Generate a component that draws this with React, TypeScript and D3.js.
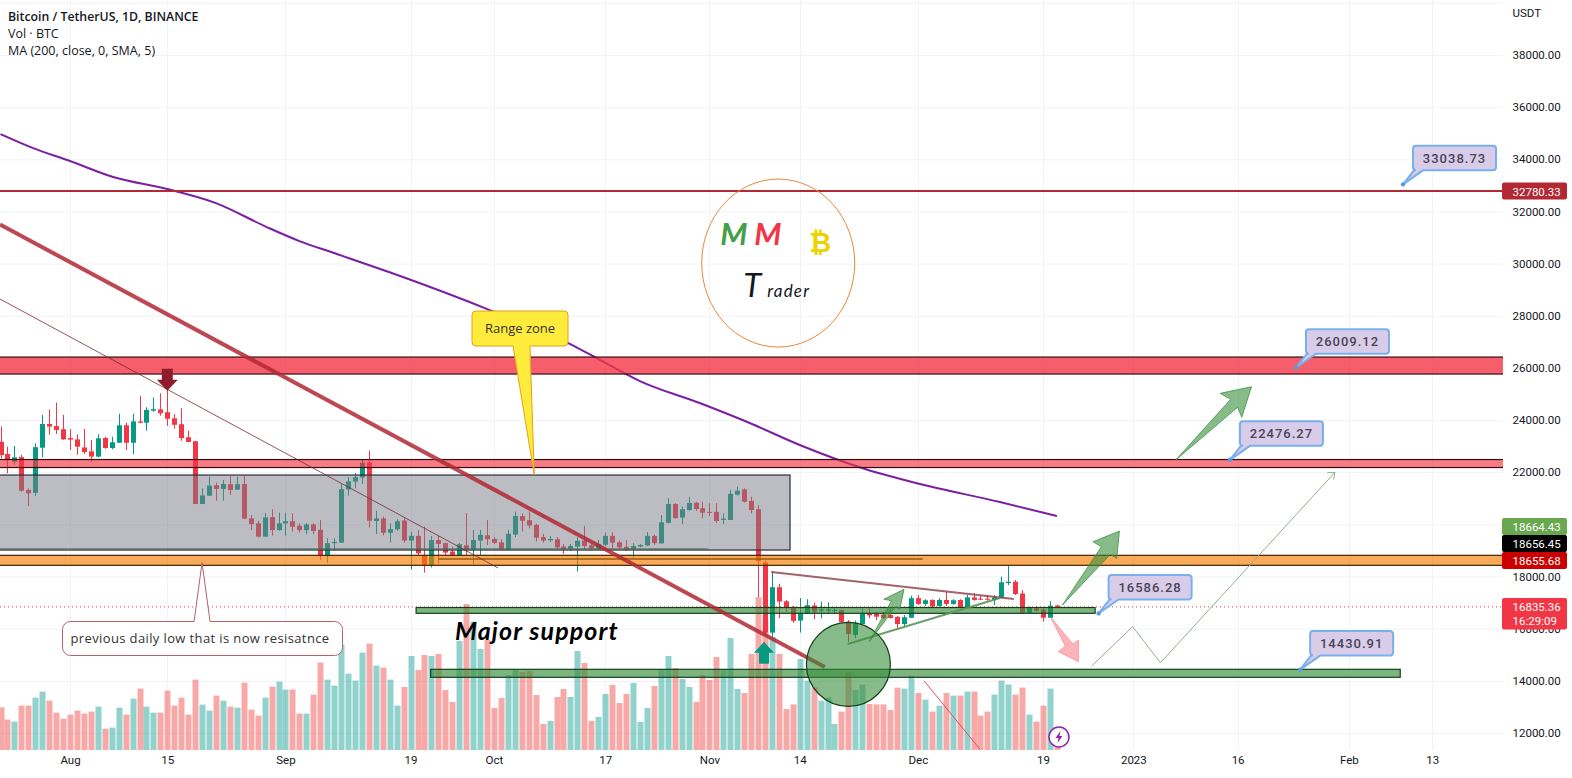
import React, { useEffect, useRef } from "react";
import * as d3 from "d3";

const opens = [23170,22700,22400,22580,21320,21210,22940,23850,23770,23650,23310,23260,22950,22800,22600,23310,22930,23130,23800,23130,23950,23900,24360,24410,24300,24070,23840,23340,23190,20780,21100,21500,21360,21540,21330,21550,20230,20040,19530,20280,19780,20040,20120,19950,19780,20000,19790,18790,19280,19300,21340,21640,21800,22380,20130,20230,19680,19810,20150,19380,19560,18830,18440,19400,19280,18960,18820,19200,19020,19380,19580,19440,19310,19020,19610,20320,20160,19980,19510,19390,19430,19150,19060,19150,19380,19200,19060,19220,19560,19310,19140,19050,19150,19190,19560,19270,20060,20780,20260,20550,20830,20620,20480,20480,20170,20170,21140,21340,20900,20580,18540,15850,17590,17050,16810,16310,16590,16890,16690,16690,16690,16710,16270,15760,16180,16590,16570,16540,16530,16450,16180,16420,17170,16950,17100,16870,17100,16950,17100,16820,17200,17150,17150,17100,17190,17750,17800,17350,16610,16780,16740,16420,16890];
const highs = [23750,22980,23010,22670,21380,23110,24200,24410,24670,24200,23650,23450,23660,23240,23460,23360,23360,24240,23900,24240,24930,24490,24870,25030,25180,24230,24450,23590,23190,21380,21830,21600,21700,21860,21830,21860,20360,20140,20430,20580,20450,20450,20430,20040,20040,20040,20170,19470,19470,21550,21810,21960,22500,22830,20530,20300,20040,20200,20240,19720,19790,19920,19560,19560,19300,19150,19280,20430,19790,19790,20170,19510,19430,19790,20490,20420,20490,20020,19640,19560,19510,19250,19250,19510,19940,19280,19400,19690,19690,19380,19400,19280,19250,19700,19600,20360,21000,20810,20680,21060,20870,20870,20810,20810,20420,21320,21450,21380,21060,20750,18620,18190,17720,17100,16880,17170,17130,17000,17040,17010,16780,16740,16330,16310,16780,16780,16650,16650,16720,16490,16530,17260,17290,17130,17130,17170,17410,17130,17130,17290,17360,17250,17280,17290,18000,18420,17870,17480,16840,16870,16780,17060,16920];
const lows = [22530,21960,22280,21260,20700,21090,22570,23430,23470,23240,22850,22670,22700,22390,22570,22900,22880,23130,22850,22700,23870,23590,24320,24170,23780,23670,23210,23150,20780,20780,21090,20910,20910,21130,21320,20220,19780,19500,19530,19570,19760,19570,19720,19680,19620,19630,18630,18530,18990,19300,21110,21380,21550,19880,19630,19580,19300,19760,19300,18270,18790,18150,18350,18500,18830,18790,18790,18820,18480,18830,19210,19250,19020,19020,19510,19720,19850,19340,19300,19330,19040,18870,18990,18190,19050,19020,19020,19170,19080,19070,18990,18700,19120,19170,19210,19270,20040,20220,20010,20520,20520,20230,20320,20060,20010,20170,21110,20840,20420,17220,15760,15690,16400,16650,16230,15850,16570,16360,16400,16570,16590,16230,15500,15630,16180,16400,16330,16360,16390,15950,16100,16420,16910,16870,16820,16850,16870,16920,16790,16820,17070,17100,17070,16910,17160,17670,17290,16560,16590,16650,16270,16420,16790];
const closes = [22660,22470,22570,21290,21190,22960,23850,23750,23620,23260,23250,22980,22770,22600,23300,22930,23150,23800,23130,23950,23900,24390,24420,24260,24050,23820,23310,23160,20780,21110,21490,21360,21550,21320,21540,20220,20010,19530,20270,19780,20040,20120,19910,19780,20000,19750,18790,19280,19330,21350,21650,21810,22370,20140,20230,19680,19820,20120,19380,19560,18890,18440,19400,19250,18920,18830,19240,19020,19400,19600,19430,19290,19050,19640,20320,20140,19960,19490,19380,19440,19120,19050,19170,19370,19170,19070,19250,19560,19300,19120,19020,19170,19210,19560,19280,20080,20780,20240,20580,20820,20590,20450,20450,20130,20220,21170,21290,20870,20550,18590,15850,17590,17040,16820,16300,16590,16900,16650,16740,16740,16720,16260,15800,16210,16590,16510,16460,16410,16410,16180,16440,17170,16950,17090,16850,17100,16950,17090,16830,17200,17100,17110,17110,17200,17780,17800,17330,16610,16790,16690,16420,16880,16835.36];
// thousands of BTC
const volumes = [213,152,142,222,222,262,292,247,187,157,177,197,182,192,217,107,112,212,177,257,307,217,187,187,297,222,262,177,352,227,197,272,247,217,212,337,202,172,262,317,342,302,302,182,182,277,437,352,322,527,382,347,487,532,422,412,352,222,315,470,400,475,470,480,300,240,545,730,642,505,550,210,260,375,400,390,395,275,130,145,265,305,265,495,435,145,165,280,325,235,280,335,140,210,320,400,470,410,355,315,240,375,350,465,400,560,305,285,480,765,650,565,480,205,228,455,347,313,247,263,130,192,388,300,327,230,228,228,200,312,307,372,285,252,192,222,285,272,272,292,292,172,192,277,347,327,277,312,177,142,222,307,20];

const firstBarOffset = -10; // first bar sits 10 days before 1 Aug
const priceTicks = [38000,36000,34000,32000,30000,28000,26000,24000,22000,20000,18000,16000,14000,12000];
const timeTicks = ["2022-08-01","2022-08-15","2022-09-01","2022-09-19","2022-10-01","2022-10-17","2022-11-01","2022-11-14","2022-12-01","2022-12-19","2023-01-01","2023-01-16","2023-02-01","2023-02-13"];
const timeLabels = ["Aug","15","Sep","19","Oct","17","Nov","14","Dec","19","2023","16","Feb","13"];

const maDays = [-10,-5.3,0,6.2,14,21,28.3,33,38,47.5,60.4,71.7,76.3,82,90.6,97.8,105,114.4,122.3,133.8,142];
const maValues = [34968,34431,33933,33319,32859,32322,31402,30865,30405,29523,28219,26954,26302,25497,24654,23887,23043,22123,21548,20857,20321];

const bigArrow = [[159.1,22468],[167,24795],[165.5,25025],[170,25279],[168.6,24105],[168,24488]];
const upArrow = [[142.8,16908],[148.4,19143],[147.2,19335],[151,19745],[150.6,18699],[149.7,18852]];
const smallArrow = [[115,15501],[118.2,17073],[117.1,17127],[120,17510],[119.4,16743],[118.8,16843]];
const pinkArrow = [[141.1,16436],[143.2,15336],[142.2,15117],[145.1,14734],[145.1,15566],[144.3,15413]];
const scenarioPath = [[147,14569],[152.9,16076],[156.9,14696],[182,21996]];
const scenarioHead = [[180.9,21981],[182,21996],[181.8,21728]];

const callouts = [
  { day: 191.8, price: 33038.73 },
  { day: 176.4, price: 26009.12 },
  { day: 166.9, price: 22476.27 },
  { day: 148, price: 16586.28 },
  { day: 177, price: 14430.91 },
];

const W = 1572;
const H = 778;
const paneRight = 1503;
const volBase = 750;

const dayX = d3.scaleLinear().domain([0, 196]).range([70, 70 + 6.95 * 196]);
const aug1 = Date.UTC(2022, 7, 1);
const x = d3.scaleUtc().domain([new Date(aug1), new Date(aug1 + 196 * 864e5)]).range([70, 70 + 6.95 * 196]);
const y = d3.scaleLinear().domain([12000, 38000]).range([733, 55]);
const vol = d3.scaleLinear().domain([0, 1000]).range([volBase, volBase - 200]);
const pt = ([d, p]: number[]) => [dayX(d), y(p)] as [number, number];

// rounded box with a pointer to (tx, ty), the pointer leaving the top or bottom edge
function balloon(bx: number, by: number, w: number, h: number, r: number, b0: number, b1: number, tx: number, ty: number, side: "top" | "bottom") {
  const p = d3.path();
  p.moveTo(bx + r, by);
  if (side === "top") {
    p.lineTo(b0, by);
    p.lineTo(tx, ty);
    p.lineTo(b1, by);
  }
  p.lineTo(bx + w - r, by);
  p.arcTo(bx + w, by, bx + w, by + r, r);
  p.lineTo(bx + w, by + h - r);
  p.arcTo(bx + w, by + h, bx + w - r, by + h, r);
  if (side === "bottom") {
    p.lineTo(b1, by + h);
    p.lineTo(tx, ty);
    p.lineTo(b0, by + h);
  }
  p.lineTo(bx + r, by + h);
  p.arcTo(bx, by + h, bx, by + h - r, r);
  p.lineTo(bx, by + r);
  p.arcTo(bx, by, bx + r, by, r);
  p.closePath();
  return p.toString();
}

const App: React.FC = () => {
  const svgRef = useRef<SVGSVGElement>(null);

  useEffect(() => {
    if (!svgRef.current) return;
    document.body.style.margin = "0";
    const svg = d3.select(svgRef.current);
    svg.selectAll("*").remove();
    const sans = "Roboto, 'Noto Sans', sans-serif";
    const ui = "'Open Sans', 'Noto Sans', sans-serif";

    svg.append("defs").append("clipPath").attr("id", "pane")
      .append("rect").attr("width", paneRight).attr("height", volBase);

    // grid
    const grid = svg.append("g").attr("stroke", "#f0f3fa");
    grid.selectAll("line.h").data(priceTicks.concat(40000)).join("line")
      .attr("x1", 0).attr("x2", paneRight).attr("y1", (d) => y(d) + 0.5).attr("y2", (d) => y(d) + 0.5);
    grid.selectAll("line.v").data(timeTicks).join("line")
      .attr("x1", (d) => Math.round(x(new Date(d))) + 0.5).attr("x2", (d) => Math.round(x(new Date(d))) + 0.5)
      .attr("y1", 0).attr("y2", volBase);

    const pane = svg.append("g").attr("clip-path", "url(#pane)");
    const bars = opens.map((o, i) => ({
      cx: Math.round(dayX(firstBarOffset + i)),
      o, h: highs[i], l: lows[i], c: closes[i], v: volumes[i],
      up: closes[i] >= o,
    }));

    // volume
    pane.append("g").selectAll("rect").data(bars).join("rect")
      .attr("x", (d) => d.cx - 2.5).attr("width", 6)
      .attr("y", (d) => vol(d.v)).attr("height", (d) => volBase - vol(d.v))
      .attr("fill", (d) => (d.up ? "rgba(38,166,154,0.5)" : "rgba(239,83,80,0.5)"));

    // candles
    const candles = pane.append("g");
    candles.selectAll("line").data(bars).join("line")
      .attr("x1", (d) => d.cx + 0.5).attr("x2", (d) => d.cx + 0.5)
      .attr("y1", (d) => y(d.h)).attr("y2", (d) => y(d.l))
      .attr("stroke", (d) => (d.up ? "#089981" : "#f23645"));
    candles.selectAll("rect").data(bars).join("rect")
      .attr("x", (d) => d.cx - 2).attr("width", 5)
      .attr("y", (d) => y(Math.max(d.o, d.c)))
      .attr("height", (d) => Math.max(1, Math.abs(y(d.o) - y(d.c))))
      .attr("fill", (d) => (d.up ? "#089981" : "#f23645"));

    // moving average
    const maLine = d3.line<number>().x((d) => dayX(d)).y((_, i) => y(maValues[i])).curve(d3.curveMonotoneX);
    pane.append("path").attr("d", maLine(maDays)).attr("fill", "none").attr("stroke", "#7b1fa2").attr("stroke-width", 2);

    // current price line
    pane.append("line").attr("x1", 0).attr("x2", paneRight).attr("y1", y(16835.36)).attr("y2", y(16835.36))
      .attr("stroke", "#f23645").attr("stroke-dasharray", "1 3");

    const zone = (x0: number, x1: number, top: number, bot: number, fill: string, stroke: string, sw = 1.2) =>
      pane.append("rect").attr("x", x0).attr("width", x1 - x0).attr("y", y(top)).attr("height", y(bot) - y(top))
        .attr("fill", fill).attr("stroke", stroke).attr("stroke-width", sw);
    const seg = (a: number[], b: number[], stroke: string, sw: number) =>
      pane.append("line").attr("x1", pt(a)[0]).attr("y1", pt(a)[1]).attr("x2", pt(b)[0]).attr("y2", pt(b)[1])
        .attr("stroke", stroke).attr("stroke-width", sw);

    // range box and levels
    zone(-3, dayX(103.6), 21893, 19017, "rgba(120,123,134,0.5)", "#2a2e39");
    seg([-11, 19055], [91.8, 19055], "rgba(76,110,90,0.8)", 1.5);
    seg([-11, 32780.33], [210, 32780.33], "#b22833", 2);
    zone(-3, paneRight + 3, 26417, 25766, "rgba(242,54,69,0.8)", "#3a0d12");
    zone(-3, paneRight + 3, 22487, 22180, "rgba(242,54,69,0.65)", "#3a0d12");
    zone(-3, paneRight + 3, 18814, 18430, "rgba(245,124,0,0.65)", "#3f2405");
    seg([53, 18672], [122.7, 18672], "#9a5a10", 1.5);
    zone(dayX(49.8), dayX(147.5), 16812, 16590, "rgba(56,142,60,0.65)", "#12401a");
    zone(dayX(51.9), dayX(191.4), 14442, 14136, "rgba(56,142,60,0.65)", "#12401a");

    // trend lines
    seg([-10.07, 28641], [61.6, 18327], "rgba(122,40,50,0.8)", 1);
    seg([-10.07, 31498], [108.6, 14531], "rgba(178,40,51,0.85)", 4);
    seg([100.9, 18173], [135.8, 17138], "rgba(140,60,70,0.8)", 2);
    seg([111.9, 15413], [133.8, 17176], "rgba(90,150,90,0.9)", 2);
    seg([122.9, 13994], [130.9, 11387], "#e05060", 1);

    pane.append("circle").attr("cx", dayX(112)).attr("cy", y(14634)).attr("r", 42)
      .attr("fill", "rgba(56,142,60,0.6)").attr("stroke", "#12401a").attr("stroke-width", 1.2);

    // arrows
    const polygon = (pts: number[][], fill: string, stroke: string) =>
      pane.append("polygon").attr("points", pts.map((p) => pt(p).join(",")).join(" "))
        .attr("fill", fill).attr("stroke", stroke);
    polygon(bigArrow, "rgba(56,142,60,0.6)", "rgba(56,142,60,0.75)");
    polygon(upArrow, "rgba(56,142,60,0.6)", "rgba(56,142,60,0.75)");
    polygon(smallArrow, "rgba(56,142,60,0.6)", "rgba(56,142,60,0.75)");
    polygon(pinkArrow, "rgba(247,120,130,0.55)", "rgba(247,120,130,0.6)");
    const polyline = d3.line<number[]>().x((d) => pt(d)[0]).y((d) => pt(d)[1]);
    pane.append("path").attr("d", polyline(scenarioPath)).attr("fill", "none").attr("stroke", "#8fb08f");
    pane.append("path").attr("d", polyline(scenarioHead)).attr("fill", "none").attr("stroke", "#8fb08f");

    // bar markers
    const mx = dayX(14), my = y(25125);
    pane.append("path").attr("fill", "#8e1c2a")
      .attr("d", `M${mx},${my} l-10.5,-11 h5 v-11 h11 v11 h5 Z`);
    const ux = dayX(100) - 1, uy = y(15501);
    pane.append("path").attr("fill", "#089981")
      .attr("d", `M${ux},${uy} l10,11 h-5 v11 h-10 v-11 h-5 Z`);

    // text balloons
    const rangeX = dayX(66.8), rangeY = y(21893);
    pane.append("path").attr("d", balloon(472, rangeY - 164, 96, 35, 4, 513, 530, rangeX, rangeY, "bottom"))
      .attr("fill", "#ffeb3b").attr("stroke", "#e0a21a");
    pane.append("text").attr("x", 520).attr("y", rangeY - 142).attr("text-anchor", "middle")
      .attr("font-family", ui).attr("font-size", 13).attr("fill", "#333").text("Range zone");

    const prevX = dayX(19), prevY = y(18530);
    pane.append("path").attr("d", balloon(62.5, 621.5, 280, 34, 8, prevX - 8, prevX + 8, prevX, prevY, "top"))
      .attr("fill", "#fff").attr("stroke", "#b5616a");
    pane.append("text").attr("x", 200).attr("y", 643).attr("text-anchor", "middle")
      .attr("font-family", ui).attr("font-size", 13).attr("letter-spacing", 0.38).attr("fill", "#333")
      .text("previous daily low that is now resisatnce");

    pane.append("text").attr("x", dayX(55.4)).attr("y", y(15566))
      .attr("font-family", "Lato, sans-serif").attr("font-size", 25).attr("font-weight", 700).attr("font-style", "italic")
      .attr("letter-spacing", 1.1).attr("fill", "#000").text("Major support");

    // price callouts
    const cGroup = pane.append("g");
    callouts.forEach((c) => {
      const dx = dayX(c.day), dy = y(c.price);
      const bx = dx + 10, by = dy - 38.5;
      cGroup.append("path").attr("d", balloon(bx, by, 83, 24.5, 3, bx + 1, bx + 10, dx, dy, "bottom"))
        .attr("fill", "#d9cce8").attr("stroke", "#78b0ee").attr("stroke-width", 2);
      cGroup.append("circle").attr("cx", dx).attr("cy", dy).attr("r", 2.2).attr("fill", "#5c9ae0");
      cGroup.append("text").attr("x", bx + 41.5).attr("y", by + 17).attr("text-anchor", "middle")
        .attr("font-family", "Roboto, sans-serif").attr("font-size", 13).attr("font-weight", 500).attr("letter-spacing", 1)
        .attr("fill", "#4a4458").text(c.price.toFixed(2));
    });

    // logo
    const lx = dayX(101.9), ly = y(30022);
    const logo = pane.append("g").attr("transform", `translate(${lx},${ly})`);
    logo.append("ellipse").attr("rx", 76.5).attr("ry", 84).attr("fill", "none").attr("stroke", "#e8883a");
    const logoText = (t: string, tx: number, ty: number, size: number, fill: string, weight = 700, extra = 0) =>
      logo.append("text").attr("x", tx).attr("y", ty).attr("font-family", "Lato, sans-serif").attr("font-style", "italic")
        .attr("font-size", size).attr("font-weight", weight).attr("letter-spacing", extra).attr("fill", fill).text(t);
    logoText("M", -58, -18, 31, "#43a047");
    logoText("M", -24, -18, 31, "#f23645");
    logoText("T", -35, 34, 33, "#131722", 400);
    logoText("rader", -11, 34, 17, "#131722", 400, 1.2);
    logo.append("text").attr("x", 42).attr("y", -11).attr("text-anchor", "middle").attr("font-family", "'DejaVu Sans', sans-serif")
      .attr("font-weight", 700).attr("font-size", 27).attr("fill", "#ecd400").text("\u20BF");

    // price axis
    const yAxis = svg.append("g").attr("transform", "translate(1512.5,0)")
      .call(d3.axisRight(y).tickValues(priceTicks).tickSize(0).tickPadding(0).tickFormat(d3.format(".2f") as any));
    const xAxis = svg.append("g").attr("transform", `translate(0,${volBase})`)
      .call(d3.axisBottom(x).tickValues(timeTicks.map((d) => new Date(d))).tickSize(0).tickPadding(6)
        .tickFormat((_, i) => timeLabels[i]));
    [yAxis, xAxis].forEach((a) => {
      a.select(".domain").remove();
      a.selectAll("text").attr("font-family", sans).attr("font-size", 11.5).attr("fill", "#131722");
    });
    svg.append("text").attr("x", 1512.5).attr("y", 17).attr("font-family", sans).attr("font-size", 11.5).attr("fill", "#131722").text("USDT");

    // price tags, the three close ones are stacked upward
    const tag = (cy: number, label: string[], fill: string) => {
      const h = label.length * 14.5 + 2.5;
      const top = cy - 8.5;
      svg.append("rect").attr("x", 1502).attr("y", top).attr("width", 65).attr("height", h).attr("rx", 2).attr("fill", fill);
      label.forEach((t, i) =>
        svg.append("text").attr("x", 1512.5).attr("y", top + 13 + i * 14.5).attr("font-family", sans).attr("font-size", 11.5)
          .attr("fill", "#fff").text(t));
    };
    const base = y(18655.68) + 1;
    tag(base - 34, ["18664.43"], "#6aa84f");
    tag(base - 17, ["18656.45"], "#000");
    tag(base, ["18655.68"], "#cc0000");
    tag(y(32780.33), ["32780.33"], "#b22833");
    tag(y(16835.36) - 0.5, ["16835.36", "16:29:09"], "#f23645");

    // legend
    const legend = svg.append("g").attr("font-family", ui).attr("font-size", 12.5).attr("fill", "#131722");
    legend.append("text").attr("x", 8).attr("y", 20.5).attr("font-weight", 600).attr("font-size", 12.3).text("Bitcoin / TetherUS, 1D, BINANCE");
    legend.append("text").attr("x", 8).attr("y", 37.5).text("Vol \u00B7 BTC");
    legend.append("text").attr("x", 8).attr("y", 55).text("MA (200, close, 0, SMA, 5)");

    // lightning badge
    const badge = svg.append("g").attr("transform", `translate(${dayX(142.3)},737)`);
    badge.append("circle").attr("r", 10).attr("fill", "#fff").attr("stroke", "#8e24aa").attr("stroke-width", 1.5);
    badge.append("path").attr("d", "M1.5,-6 L-3.5,1 H-0.5 L-1.5,6 L3.5,-1 H0.5 Z").attr("fill", "#8e24aa");

    return () => {
      svg.selectAll("*").remove();
    };
  }, []);

  return <svg ref={svgRef} width={W} height={H} style={{ position: "absolute", left: 0, top: 0, background: "#fff" }} />;
};

export default App;
